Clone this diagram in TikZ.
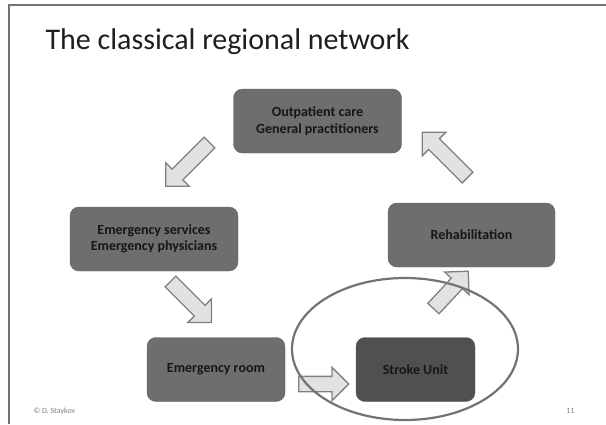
\documentclass[tikz,border=0pt]{standalone}
\usepackage{fontspec}
\setmainfont{Carlito}
\usetikzlibrary{shapes.arrows}

\definecolor{boxgray}{HTML}{6E6E6E}
\definecolor{unitgray}{HTML}{505050}
\definecolor{arrowfill}{HTML}{E2E2E2}
\definecolor{boxtext}{HTML}{161616}

\begin{document}
\begin{tikzpicture}[
  x=1pt,y=-1pt,
  font=\fontsize{14}{16.5}\selectfont,
  every node/.style={align=center},
  station/.style={draw=black!62,fill=boxgray,rounded corners=9pt,minimum width=168pt,
    minimum height=64pt,inner sep=2pt,text=boxtext,font=\fontsize{14}{16.5}\selectfont\bfseries},
  unit/.style={station,fill=unitgray},
  flow/.style={shape=single arrow,draw=black!50,line width=1.3pt,fill=arrowfill,
    inner xsep=0pt,inner ysep=7pt,single arrow head extend=9pt,anchor=tail},
  ring/.style={draw=black!55,line width=2.2pt}]

  \useasboundingbox (0,0) rectangle (606,424);
  \fill[white] (0,0) rectangle (606,424);
  % slide frame
  \draw[black!55,line width=1.4pt] (9,424) -- (9,5) -- (606,5);

  \node[anchor=base west,font=\fontsize{30}{36}\selectfont,text=black!88] (title)
    at (42,49) {The classical regional network};

  % the stations of the network
  \node[station] (outpatient) at (317.5,121) {Outpatient care\\General practitioners};
  \node[station] (services) at (154,239) {Emergency services\\Emergency physicians};
  \node[station,minimum width=167pt] (rehab) at (471.5,235) {Rehabilitation};
  \node[station,minimum width=138pt] (eroom) at (216,369.5) {Emergency room};
  \node[unit,minimum width=119pt] (stroke) at (415.5,369.5) {Stroke Unit};

  % block arrows between them
  \node[flow,minimum height=62pt,rotate=225] (toservices) at (210,142) {};
  \node[flow,minimum height=58pt,rotate=-45] (toeroom) at (170,281) {};
  \node[flow,minimum height=50pt,rotate=0] (tostroke) at (298,384) {};
  \node[flow,minimum height=51pt,rotate=47] (torehab) at (433,309) {};
  \node[flow,minimum height=64pt,rotate=135] (tooutpatient) at (468,178) {};

  \draw[ring] (405,349) ellipse [x radius=113pt, y radius=71pt];

  \node[anchor=base west,font=\fontsize{8}{9}\selectfont,text=black!50] (author)
    at (30,413) {© D. Staykov};
  \node[anchor=base east,font=\fontsize{8}{9}\selectfont,text=black!50] (page)
    at (578,413) {11};
\end{tikzpicture}
\end{document}
